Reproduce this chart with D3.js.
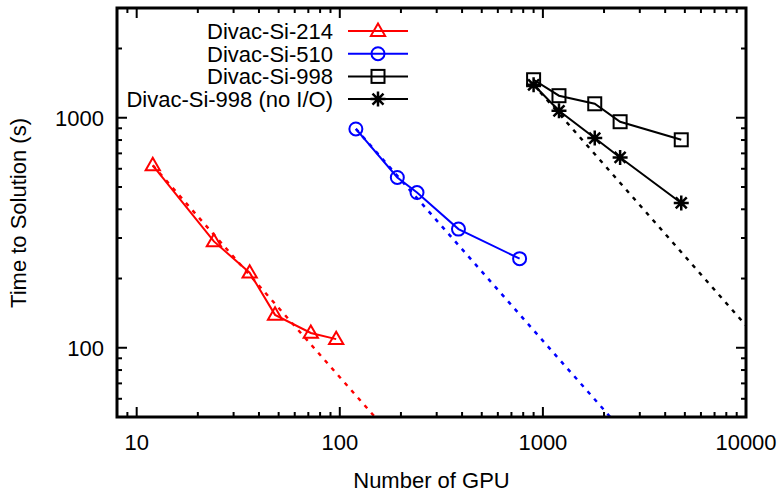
<!DOCTYPE html>
<html>
<head>
<meta charset="utf-8">
<script src="https://cdn.jsdelivr.net/npm/d3@7"></script>
<style>
  html, body { margin: 0; padding: 0; background: #fff; }
  svg text { font-family: "Liberation Sans", Arial, sans-serif; fill: #000; }
</style>
</head>
<body>
<svg id="chart" width="782" height="493"></svg>
<script>
/* Data */
var gpu214 = [12, 24, 36, 48, 72, 96];
var time214 = [621, 290, 212, 139, 116, 109];

var gpu510 = [120, 192, 240, 384, 768];
var time510 = [894, 550, 473, 328, 244];

var gpu998 = [900, 1200, 1800, 2400, 4800];
var time998 = [1463, 1247, 1150, 961, 802];
var time998noIO = [1391, 1072, 816, 672, 426];

/* ideal scaling lines: [gpu, time] end points */
var ideal214 = [[12, 621], [149, 50]];
var ideal510 = [[120, 894], [2146, 50]];
var ideal998 = [[900, 1391], [10000, 125]];

var xTickLabels = [10, 100, 1000, 10000];
var yTickLabels = [100, 1000];

var seriesNames = ["Divac-Si-214", "Divac-Si-510", "Divac-Si-998", "Divac-Si-998 (no I/O)"];

/* Layout */
var frame = {left: 117, right: 746, top: 8, bottom: 417};
var fontSize = "22px";
var svg = d3.select("svg#chart");

var x = d3.scaleLog().domain([8, 10000]).range([frame.left, frame.right]);
var y = d3.scaleLog().domain([50, 3000]).range([frame.bottom, frame.top]);

var zip = (xs, ys) => xs.map((v, i) => [v, ys[i]]);

var series = [
  {name: seriesNames[0], color: "#ff0000", marker: "triangle", pts: zip(gpu214, time214), ideal: ideal214},
  {name: seriesNames[1], color: "#0000ff", marker: "circle", pts: zip(gpu510, time510), ideal: ideal510},
  {name: seriesNames[2], color: "#000000", marker: "square", pts: zip(gpu998, time998), ideal: null},
  {name: seriesNames[3], color: "#000000", marker: "star", pts: zip(gpu998, time998noIO), ideal: ideal998}
];

/* clip for the plot area */
svg.append("defs").append("clipPath").attr("id", "plotClip")
  .append("rect")
  .attr("x", frame.left).attr("y", frame.top)
  .attr("width", frame.right - frame.left).attr("height", frame.bottom - frame.top);

/* ticks: major and minor, mirrored on all sides */
var tickG = svg.append("g").attr("stroke", "#000").attr("stroke-width", 2);
var xMinor = [], yMinor = [];
[1, 10, 100, 1000].forEach(d => { for (var k = 2; k <= 9; k++) xMinor.push(d * k); });
[10, 100, 1000].forEach(d => { for (var k = 2; k <= 9; k++) yMinor.push(d * k); });
xMinor = xMinor.filter(v => v > 8 && v < 10000);
yMinor = yMinor.filter(v => v > 50 && v < 3000);

function xTicks(vals, len) {
  vals.forEach(v => {
    tickG.append("line").attr("x1", x(v)).attr("x2", x(v)).attr("y1", frame.bottom).attr("y2", frame.bottom - len);
    tickG.append("line").attr("x1", x(v)).attr("x2", x(v)).attr("y1", frame.top).attr("y2", frame.top + len);
  });
}
function yTicks(vals, len) {
  vals.forEach(v => {
    tickG.append("line").attr("y1", y(v)).attr("y2", y(v)).attr("x1", frame.left).attr("x2", frame.left + len);
    tickG.append("line").attr("y1", y(v)).attr("y2", y(v)).attr("x1", frame.right).attr("x2", frame.right - len);
  });
}
xTicks(xTickLabels, 10);
xTicks(xMinor, 5);
yTicks(yTickLabels, 10);
yTicks(yMinor, 5);

/* tick labels */
svg.append("g").selectAll("text").data(xTickLabels).enter().append("text")
  .attr("x", d => x(d)).attr("y", 450)
  .attr("text-anchor", "middle")
  .style("font-size", fontSize)
  .text(d => d);

svg.append("g").selectAll("text").data(yTickLabels).enter().append("text")
  .attr("x", 104).attr("y", d => y(d) + 8)
  .attr("text-anchor", "end")
  .style("font-size", fontSize)
  .text(d => d);

/* axis titles */
svg.append("text")
  .attr("x", (frame.left + frame.right) / 2).attr("y", 488)
  .attr("text-anchor", "middle")
  .style("font-size", fontSize)
  .text("Number of GPU");

svg.append("text")
  .attr("transform", "translate(26, 213) rotate(-90)")
  .attr("text-anchor", "middle")
  .style("font-size", fontSize)
  .text("Time to Solution (s)");

/* markers */
function drawMarker(g, type, cx, cy, color) {
  if (type === "triangle") {
    var r = 7.5;
    g.append("path")
      .attr("d", `M${cx},${cy - r} L${cx + r * 0.95},${cy + r * 0.65} L${cx - r * 0.95},${cy + r * 0.65} Z`)
      .attr("fill", "none").attr("stroke", color).attr("stroke-width", 2);
  } else if (type === "circle") {
    g.append("circle").attr("cx", cx).attr("cy", cy).attr("r", 6.5)
      .attr("fill", "none").attr("stroke", color).attr("stroke-width", 2);
  } else if (type === "square") {
    g.append("rect").attr("x", cx - 6.5).attr("y", cy - 6.5).attr("width", 13).attr("height", 13)
      .attr("fill", "none").attr("stroke", color).attr("stroke-width", 2);
  } else if (type === "star") {
    var s = 7.5, d = 5.5;
    g.append("path")
      .attr("d", `M${cx - s},${cy} L${cx + s},${cy} M${cx},${cy - s} L${cx},${cy + s} M${cx - d},${cy - d} L${cx + d},${cy + d} M${cx - d},${cy + d} L${cx + d},${cy - d}`)
      .attr("stroke", color).attr("stroke-width", 2.5);
  }
}

var line = d3.line().x(d => x(d[0])).y(d => y(d[1]));
var plotG = svg.append("g").attr("clip-path", "url(#plotClip)");

/* ideal scaling, dotted */
series.filter(s => s.ideal).forEach(s => {
  plotG.append("path")
    .attr("d", line(s.ideal))
    .attr("fill", "none")
    .attr("stroke", s.color)
    .attr("stroke-width", 2.5)
    .attr("stroke-dasharray", "4,6");
});

/* measured series */
series.forEach(s => {
  plotG.append("path")
    .attr("d", line(s.pts))
    .attr("fill", "none")
    .attr("stroke", s.color)
    .attr("stroke-width", 2);
  s.pts.forEach(p => drawMarker(plotG, s.marker, x(p[0]), y(p[1]), s.color));
});

/* legend */
var legend = svg.append("g");
series.forEach((s, i) => {
  var ly = 31 + i * 22.7;
  legend.append("text")
    .attr("x", 333).attr("y", ly + 8)
    .attr("text-anchor", "end")
    .style("font-size", fontSize)
    .text(s.name);
  legend.append("line")
    .attr("x1", 348).attr("x2", 408).attr("y1", ly).attr("y2", ly)
    .attr("stroke", s.color).attr("stroke-width", 2);
  drawMarker(legend, s.marker, 378, ly, s.color);
});

/* frame */
svg.append("rect")
  .attr("x", frame.left).attr("y", frame.top)
  .attr("width", frame.right - frame.left).attr("height", frame.bottom - frame.top)
  .attr("fill", "none").attr("stroke", "#000").attr("stroke-width", 3);
</script>
</body>
</html>
